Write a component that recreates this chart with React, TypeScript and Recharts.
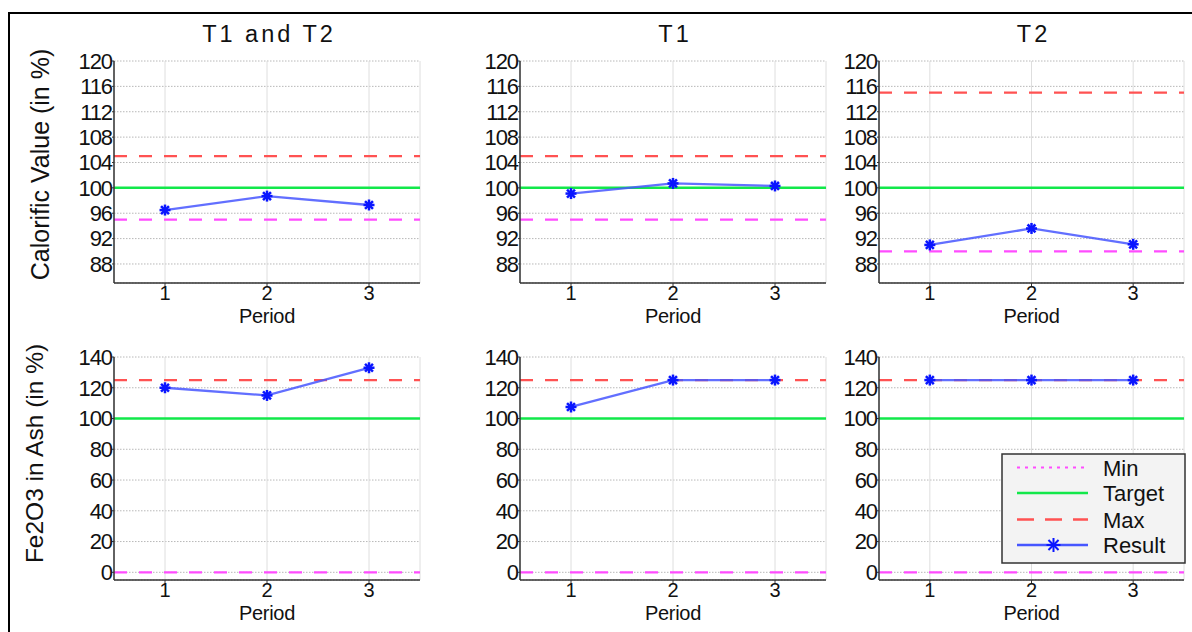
import { LineChart, Line, XAxis, YAxis, CartesianGrid, ReferenceLine } from 'recharts';

const periods = [1, 2, 3];
const titles = ['T1 and T2', 'T1', 'T2'];

const calorificTicks = [88, 92, 96, 100, 104, 108, 112, 116, 120];
const ashTicks = [0, 20, 40, 60, 80, 100, 120, 140];

// results per period
const calorificBoth = [96.5, 98.7, 97.3];
const calorificT1 = [99.1, 100.7, 100.3];
const calorificT2 = [91.0, 93.6, 91.1];
const ashBoth = [120, 115, 133];
const ashT1 = [107.5, 125, 125];
const ashT2 = [125, 125, 125];

// limits per panel (T1 and T2, T1, T2)
const calorificMin = [95, 95, 90];
const calorificTarget = [100, 100, 100];
const calorificMax = [105, 105, 115];
const ashMin = [0, 0, 0];
const ashTarget = [100, 100, 100];
const ashMax = [125, 125, 125];

const GREEN = '#12e84a';
const RED = '#ff5252';
const MAGENTA = '#ff4cff';
const BLUE_LINE = '#4656ff';
const BLUE_MARK = '#0a16ff';
const FONT = '"Liberation Sans", Arial, Helvetica, sans-serif';

const YW = 50;
const MT = 12;
const XH = 44;

const colLefts = [114, 520, 879];
const colWidths = [306, 306, 305];

function minorTicks(hi: number, lo: number, step: number) {
  const out: number[] = [];
  for (let v = hi; v >= lo; v -= step) out.push(Math.round(v * 100) / 100);
  return out;
}

function Asterisk({ cx, cy, r = 5.5, sw = 2.5 }: { cx: number; cy: number; r?: number; sw?: number }) {
  const d = r * 0.72;
  return (
    <g stroke={BLUE_MARK} strokeWidth={sw}>
      <line x1={cx - r} y1={cy} x2={cx + r} y2={cy} />
      <line x1={cx} y1={cy - r} x2={cx} y2={cy + r} />
      <line x1={cx - d} y1={cy - d} x2={cx + d} y2={cy + d} />
      <line x1={cx - d} y1={cy + d} x2={cx + d} y2={cy - d} />
    </g>
  );
}

function Panel({
  left, top, w, h, values, domain, ticks, minor, min, target, max,
}: {
  left: number; top: number; w: number; h: number; values: number[];
  domain: [number, number]; ticks: number[]; minor: number[];
  min: number; target: number; max: number;
}) {
  const data = periods.map((p, i) => ({ period: p, value: values[i] }));
  return (
    <div style={{ position: 'absolute', left: left - YW, top: top - MT }}>
      <LineChart
        width={w + YW + 4}
        height={h + MT + XH}
        data={data}
        margin={{ top: MT, right: 4, bottom: 0, left: 0 }}
      >
        <CartesianGrid vertical={false} stroke="#b8b8b8" strokeDasharray="1.5 1.5" />
        <CartesianGrid horizontal={false} stroke="#dedede" />
        <XAxis
          dataKey="period"
          type="number"
          domain={[0.5, 3.5]}
          ticks={periods}
          allowDataOverflow
          interval={0}
          height={XH}
          tickSize={3}
          tickMargin={0}
          tick={{ fontSize: 20, fill: '#111' }}
          axisLine={{ stroke: '#333', strokeWidth: 1.5 }}
          tickLine={{ stroke: '#333' }}
          label={{ value: 'Period', position: 'insideBottom', offset: 4, fontSize: 20, fill: '#111', letterSpacing: -0.3 }}
        />
        <YAxis
          type="number"
          domain={domain}
          ticks={ticks}
          allowDataOverflow
          interval={0}
          width={YW}
          tickSize={2}
          tickMargin={0}
          tick={{ fontSize: 22, fill: '#111', letterSpacing: -1.1 }}
          axisLine={{ stroke: '#333', strokeWidth: 1.5 }}
          tickLine={{ stroke: '#333' }}
        />
        <YAxis
          yAxisId="minor"
          type="number"
          domain={domain}
          ticks={minor}
          allowDataOverflow
          interval={0}
          mirror
          width={1}
          tick={false}
          tickSize={3}
          axisLine={false}
          tickLine={{ stroke: '#333' }}
        />
        <ReferenceLine y={target} stroke={GREEN} strokeWidth={2.5} />
        <ReferenceLine y={max} stroke={RED} strokeWidth={2.3} strokeDasharray="13 12" />
        <ReferenceLine y={min} stroke={MAGENTA} strokeWidth={2.3} strokeDasharray="13 12" />
        <Line
          dataKey="value"
          stroke={BLUE_LINE}
          strokeOpacity={0.85}
          strokeWidth={2.3}
          isAnimationActive={false}
          activeDot={false}
          dot={(p: any) => <Asterisk key={`d-${p.index}`} cx={p.cx} cy={p.cy} />}
        />
      </LineChart>
    </div>
  );
}

export default function App() {
  const calVals = [calorificBoth, calorificT1, calorificT2];
  const ashVals = [ashBoth, ashT1, ashT2];
  const calMinor = minorTicks(120, 85, 0.8);
  const ashMinor = minorTicks(140, -5, 4);
  const lx1 = 1017;
  const lx2 = 1088;
  const rows = [467.5, 493, 519.5, 545];
  return (
    <div
      style={{
        position: 'absolute', left: 0, top: 0, width: 1192, height: 632,
        overflow: 'hidden', background: '#fff', fontFamily: FONT,
      }}
    >
      <div
        style={{
          position: 'absolute', left: 8, top: 12, width: 1200, height: 640,
          borderTop: '2.5px solid #000', borderLeft: '2.5px solid #000',
        }}
      />
      {colLefts.map((l, i) => (
        <Panel
          key={`cal-${i}`}
          left={l} top={61} w={colWidths[i]} h={222}
          values={calVals[i]} domain={[85, 120]} ticks={calorificTicks} minor={calMinor}
          min={calorificMin[i]} target={calorificTarget[i]} max={calorificMax[i]}
        />
      ))}
      {colLefts.map((l, i) => (
        <Panel
          key={`ash-${i}`}
          left={l} top={357} w={colWidths[i]} h={223}
          values={ashVals[i]} domain={[-5, 140]} ticks={ashTicks} minor={ashMinor}
          min={ashMin[i]} target={ashTarget[i]} max={ashMax[i]}
        />
      ))}
      <svg
        width={1192}
        height={632}
        style={{ position: 'absolute', left: 0, top: 0, pointerEvents: 'none', fontFamily: FONT }}
      >
        {titles.map((t, i) => (
          <text
            key={t}
            x={colLefts[i] + colWidths[i] / 2 + 2}
            y={42}
            textAnchor="middle"
            fontSize={23.5}
            letterSpacing={3}
            fill="#111"
          >
            {t}
          </text>
        ))}
        <text
          transform="translate(49,164.5) rotate(-90)"
          textAnchor="middle"
          fontSize={25}
          fill="#111"
        >
          Calorific Value (in %)
        </text>
        <text
          transform="translate(43,453.5) rotate(-90)"
          textAnchor="middle"
          fontSize={24.5}
          fill="#111"
        >
          Fe2O3 in Ash (in %)
        </text>
        <rect x={1002} y={454} width={183} height={109} fill="#f3f3f3" stroke="#333" strokeWidth={1.5} />
        <line x1={lx1} y1={rows[0]} x2={lx2} y2={rows[0]} stroke={MAGENTA} strokeWidth={2} strokeDasharray="3 5" />
        <line x1={lx1} y1={rows[1]} x2={lx2} y2={rows[1]} stroke={GREEN} strokeWidth={2.5} />
        <line x1={lx1} y1={rows[2]} x2={lx2} y2={rows[2]} stroke={RED} strokeWidth={2.3} strokeDasharray="17 11" />
        <line x1={lx1} y1={rows[3]} x2={lx2} y2={rows[3]} stroke={BLUE_LINE} strokeWidth={2.3} />
        <Asterisk cx={(lx1 + lx2) / 2 + 1} cy={rows[3]} r={7} sw={2} />
        {['Min', 'Target', 'Max', 'Result'].map((s, i) => (
          <text key={s} x={1103} y={rows[i] + 8} fontSize={22} fill="#111">
            {s}
          </text>
        ))}
      </svg>
    </div>
  );
}
